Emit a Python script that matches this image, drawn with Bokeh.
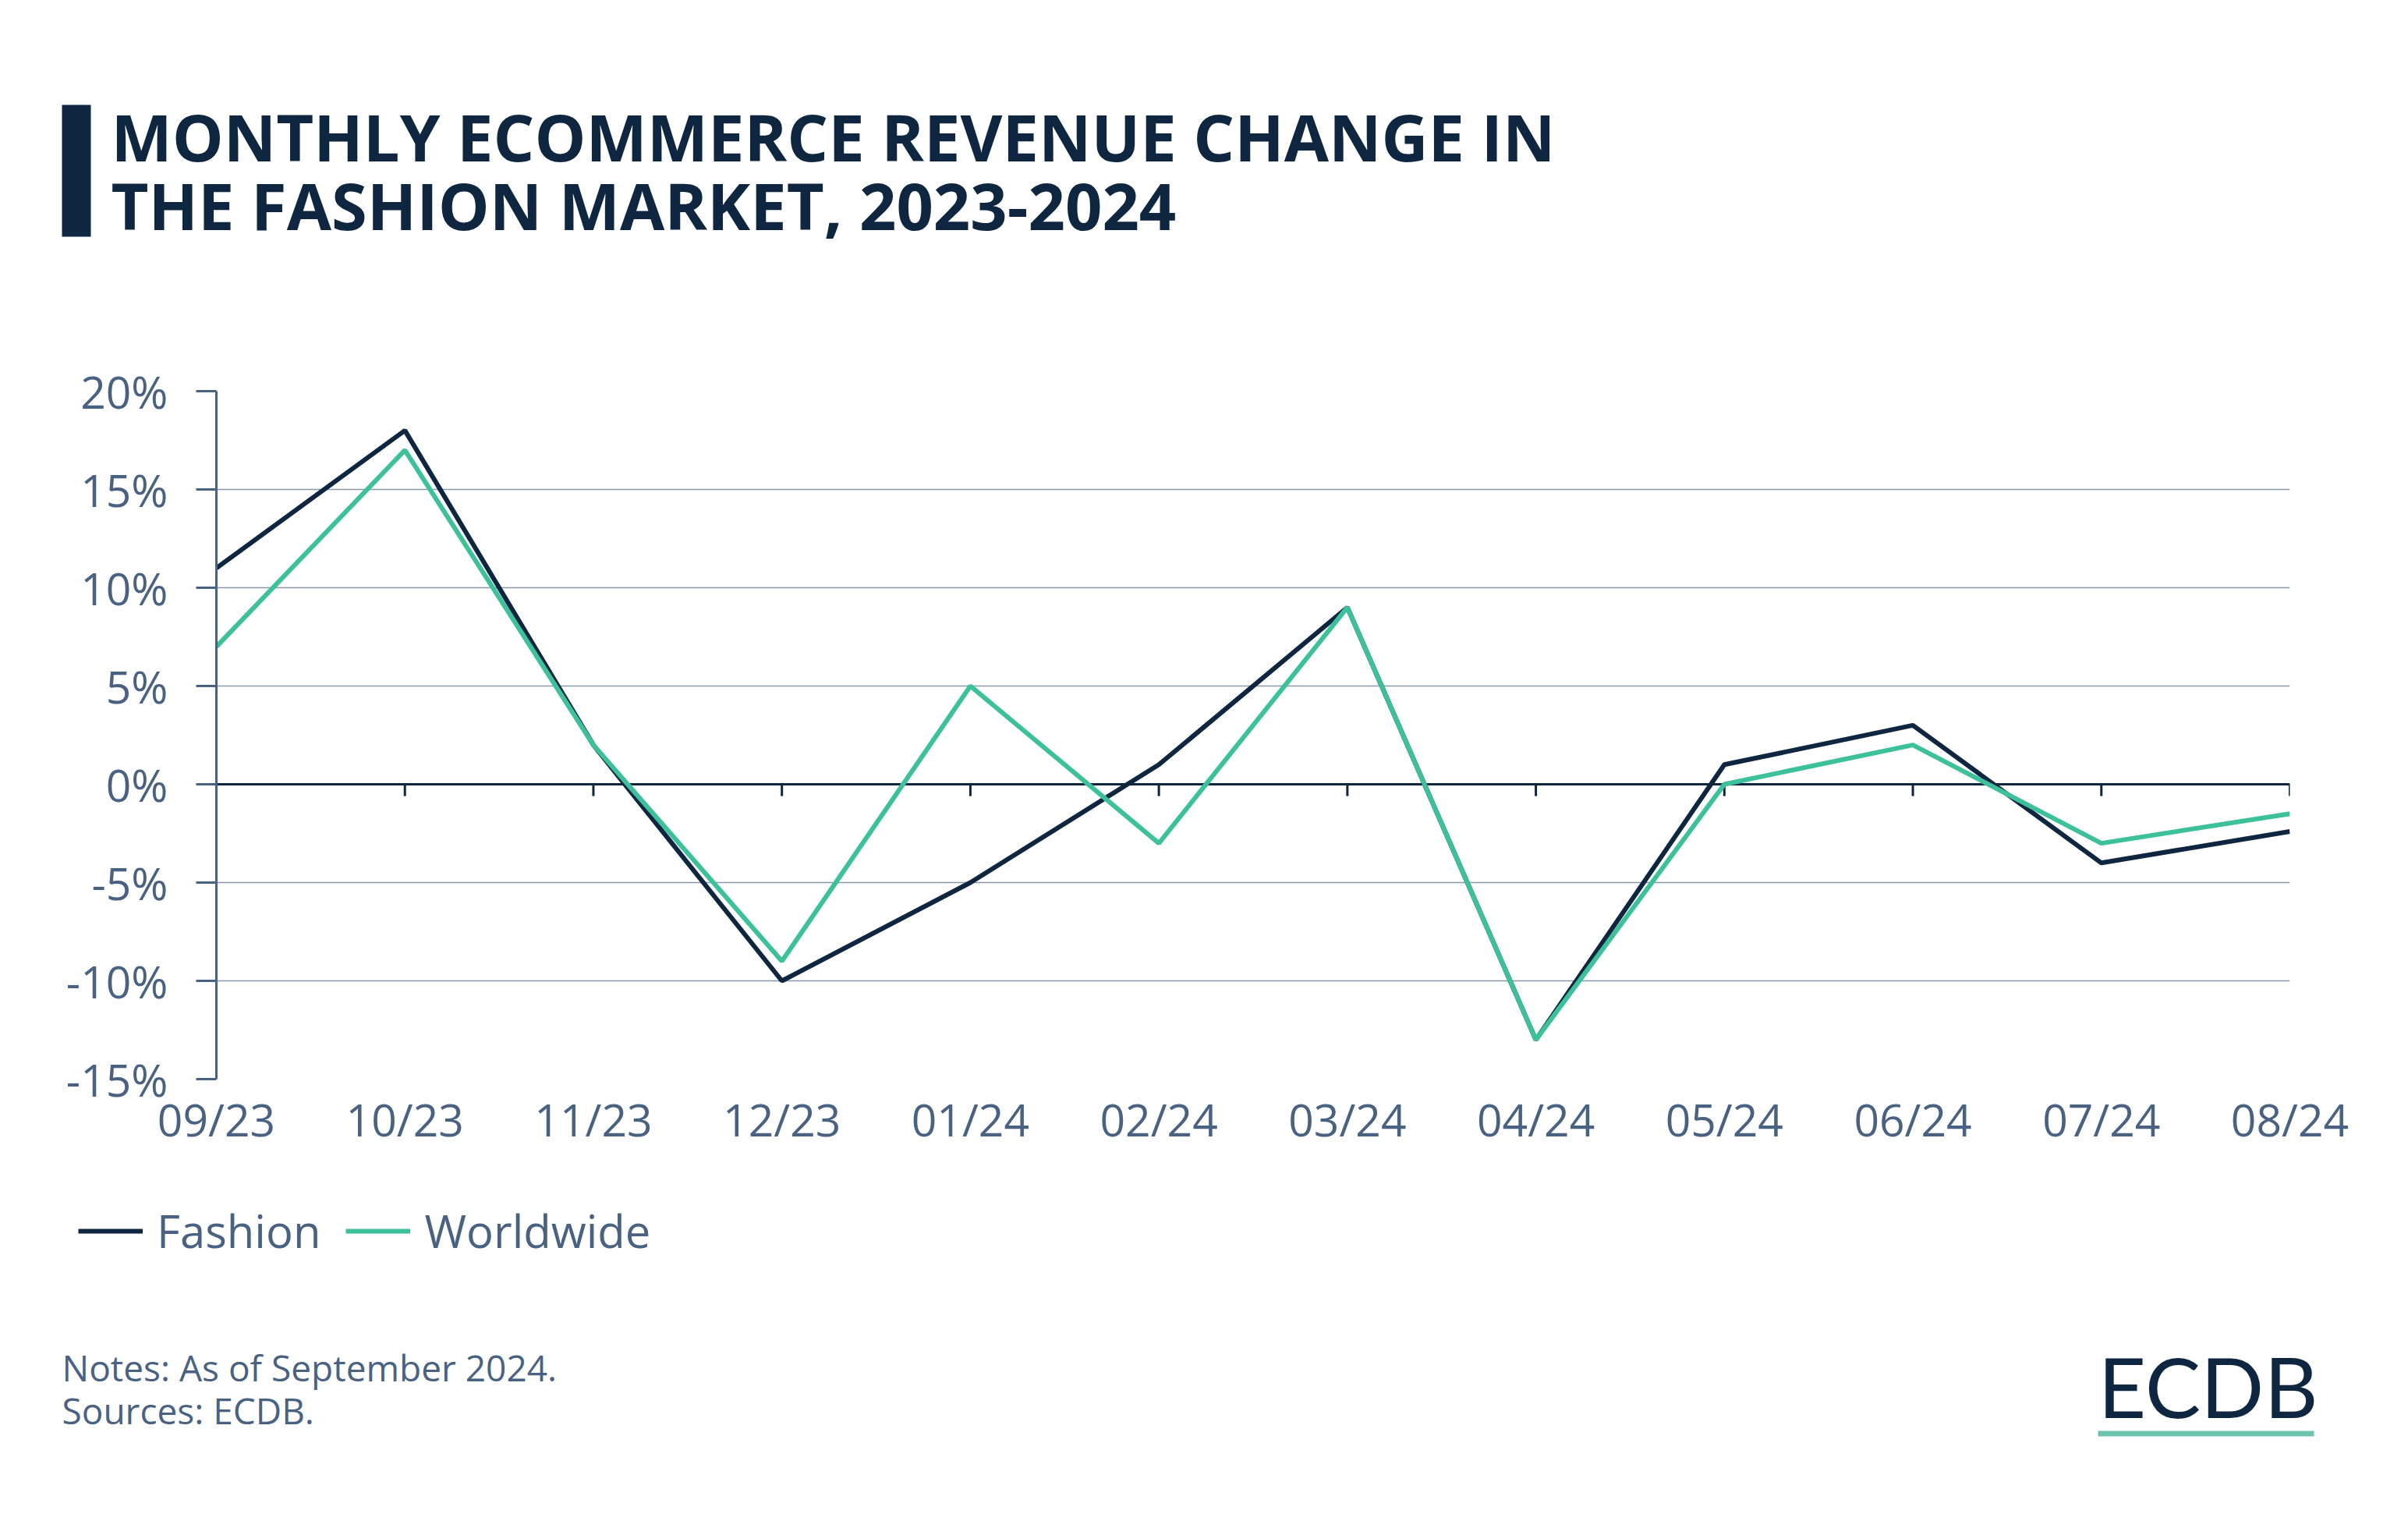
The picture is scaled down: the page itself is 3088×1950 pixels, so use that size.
from bokeh.plotting import figure
from bokeh.layouts import column
from bokeh.models import (FixedTicker, PrintfTickFormatter, Span, Label, Legend,
                          LegendItem, BoxAnnotation)
from bokeh.embed import file_html
from bokeh.resources import INLINE

# ---------------- data ----------------
months = ["09/23", "10/23", "11/23", "12/23", "01/24", "02/24",
          "03/24", "04/24", "05/24", "06/24", "07/24", "08/24"]
fashion = [11, 18, 2, -10, -5, 1, 9, -13, 1, 3, -4, -2.4]
worldwide = [7, 17, 2, -9, 5, -3, 9, -13, 0, 2, -3, -1.5]
y_ticks = [-15, -10, -5, 0, 5, 10, 15, 20]

title_lines = ["MONTHLY ECOMMERCE REVENUE CHANGE IN",
               "THE FASHION MARKET, 2023-2024"]
notes = ["Notes: As of September 2024.", "Sources: ECDB."]
series_names = ["Fashion", "Worldwide"]

# ---------------- styles ----------------
DARK = "#0f2640"
GREEN = "#3cc19b"
SLATE = "#4a6282"
GRID = "#8a97a9"
LOGO_LINE = "#6cc4b0"
FONT = "Open Sans"

W = 3088
TOP_H, MID_H = 420, 1100
BOT_H = 1950 - TOP_H - MID_H
FL, FR, FT, FB = 277, 2936, 501, 1383   # chart frame edges in page pixels

idx = list(range(len(months)))


def no_align(f):
    try:
        f.frame_align = False
    except AttributeError:
        pass
    return f


def blank(h, y0):
    f = figure(width=W, height=h, output_backend="svg", toolbar_location=None,
               x_range=(0, W), y_range=(y0 + h, y0),
               x_axis_type=None, y_axis_type=None, min_border=0)
    f.outline_line_color = None
    f.grid.visible = False
    return no_align(f)


# ---------------- title figure ----------------
top = blank(TOP_H, 0)
top.add_layout(BoxAnnotation(left=79, right=116, top=134, bottom=303,
                             fill_color=DARK, fill_alpha=1, line_color=None))
for t, base in zip(title_lines, [174, 262]):
    top.add_layout(Label(x=142, y=base, text=t, text_font=FONT,
                         text_font_style="bold", text_font_size="83px",
                         text_color=DARK, text_baseline="alphabetic",
                         text_align="left"))

# ---------------- chart figure ----------------
p = figure(width=W, height=MID_H, output_backend="svg", toolbar_location=None,
           x_range=(idx[0], idx[-1]), y_range=(y_ticks[0], y_ticks[-1]),
           min_border_left=FL, min_border_right=W - FR,
           min_border_top=FT - TOP_H, min_border_bottom=TOP_H + MID_H - FB)
p.outline_line_color = None
no_align(p)

xa = p.xaxis[0]
xa.ticker = FixedTicker(ticks=idx)
xa.major_label_overrides = {i: m for i, m in zip(idx, months)}
xa.axis_line_color = None
xa.major_tick_line_color = None
xa.minor_tick_line_color = None
xa.major_label_text_font = FONT
xa.major_label_text_font_size = "57px"
xa.major_label_text_color = SLATE
xa.major_label_standoff = 6

ya = p.yaxis[0]
ya.ticker = FixedTicker(ticks=y_ticks)
ya.formatter = PrintfTickFormatter(format="%d%%")
ya.axis_line_color = SLATE
ya.axis_line_width = 3
ya.major_tick_out = 26
ya.major_tick_in = 0
ya.major_tick_line_color = SLATE
ya.major_tick_line_width = 3
ya.minor_tick_line_color = None
ya.major_label_text_font = FONT
ya.major_label_text_font_size = "57px"
ya.major_label_text_color = SLATE
ya.major_label_standoff = 36

p.xgrid.grid_line_color = None
p.ygrid.grid_line_color = GRID
p.ygrid.grid_line_width = 1.5

p.add_layout(Span(location=0, dimension="width", line_color=DARK,
                  line_width=3, level="underlay"))
p.segment(x0=idx, y0=[0] * len(idx), x1=idx, y1=[-0.6] * len(idx),
          line_color=DARK, line_width=3)

p.line(idx, fashion, line_color=DARK, line_width=6)
p.line(idx, worldwide, line_color=GREEN, line_width=6)

# ---------------- footer figure (legend, notes, logo) ----------------
bot = blank(BOT_H, TOP_H + MID_H)
# legend swatches reuse the same series, drawn hidden here
l1 = bot.line(idx, fashion, line_color=DARK, line_width=6, visible=False)
l2 = bot.line(idx, worldwide, line_color=GREEN, line_width=6, visible=False)
legend = Legend(items=[LegendItem(label=series_names[0], renderers=[l1]),
                       LegendItem(label=series_names[1], renderers=[l2])],
                location=(100, 1950 - 1617), orientation="horizontal",
                glyph_width=83, glyph_height=60, label_standoff=18, spacing=32,
                padding=0, margin=0, border_line_color=None,
                background_fill_alpha=0, inactive_fill_alpha=0,
                label_text_font=FONT, label_text_font_size="58px",
                label_text_color=SLATE, label_height=60)
bot.add_layout(legend)

for t, base in zip(notes, [1752, 1807]):
    bot.add_layout(Label(x=79, y=base, text=t, text_font=FONT,
                         text_font_size="46px", text_color=SLATE,
                         text_baseline="alphabetic", text_align="left"))

bot.add_layout(Label(x=2690, y=1776, text="ECDB", text_font="Lato",
                     text_font_size="107px", text_color=DARK,
                     text_baseline="alphabetic", text_align="left"))
bot.add_layout(BoxAnnotation(left=2690, right=2967, top=1834, bottom=1841,
                             fill_color=LOGO_LINE, fill_alpha=1, line_color=None))

layout = column(top, p, bot, spacing=0)
open("out.html", "w").write(file_html(layout, INLINE))
